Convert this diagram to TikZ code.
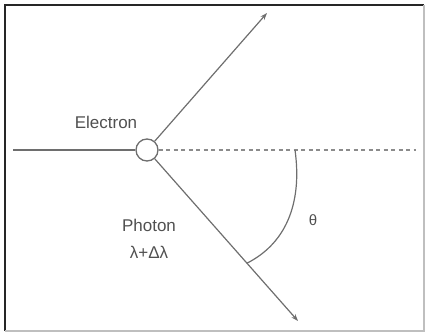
\documentclass[tikz,border=0pt]{standalone}
\usepackage{fontspec}
\setmainfont{Liberation Sans}
\usepackage{xcolor}
\usetikzlibrary{arrows.meta, positioning, calc}

\definecolor{inkgray}{HTML}{505050}
\definecolor{linegray}{HTML}{6E6E6E}

\begin{document}
\begin{tikzpicture}[
    x=1pt, y=-1pt,
    >=Stealth,
    particle/.style = {circle, draw=linegray, line width=1.3pt, fill=white,
                       minimum size=22pt, inner sep=0pt},
    ray/.style      = {line width=1.2pt, draw=linegray},
    rayout/.style   = {ray, -{Stealth[length=7pt, width=5pt]}},
    guide/.style    = {line width=1.1pt, draw=linegray!80,
                       dash pattern=on 4pt off 3.5pt},
    lbl/.style      = {font=\fontsize{17}{19}\selectfont, text=inkgray,
                       inner sep=0pt}
  ]
  \useasboundingbox (0,0) rectangle (425,332);

  % ── Frame ───────────────────────────────────────────────────
  \draw[black!85, line width=1.6pt] (5,331) -- (5,5) -- (424,5);
  \draw[gray!50, line width=1.2pt] (424,5) -- (424,331) -- (5,331);

  % ── Scattering point ────────────────────────────────────────
  \node[particle] (el) at (147,150) {};

  \coordinate (src)  at (13,150);
  \coordinate (dend) at (416,150);
  \coordinate (eout) at (267,13);
  \coordinate (pout) at (298,321);

  % ── Rays ────────────────────────────────────────────────────
  \draw[ray]    (src) -- (el);
  \draw[guide]  (el)  -- (dend);
  \draw[rayout] (el)  -- (eout);
  \draw[rayout] (el)  -- (pout);

  % ── Angle ───────────────────────────────────────────────────
  \coordinate (ta) at (295,150);
  \coordinate (tb) at ($(el.center)!0.662!(pout)$);
  \draw[ray] (ta) to[out=-82, in=27] (tb);

  % ── Labels ──────────────────────────────────────────────────
  \node[lbl] (elbl) at (106,122) {Electron};
  \node[lbl] (plbl) at (149,225) {Photon};
  \node[lbl] (wlbl) at (149,252) {λ+Δλ};
  \node[lbl, font=\fontsize{15}{17}\selectfont] (th) at (313,220) {θ};

\end{tikzpicture}
\end{document}
